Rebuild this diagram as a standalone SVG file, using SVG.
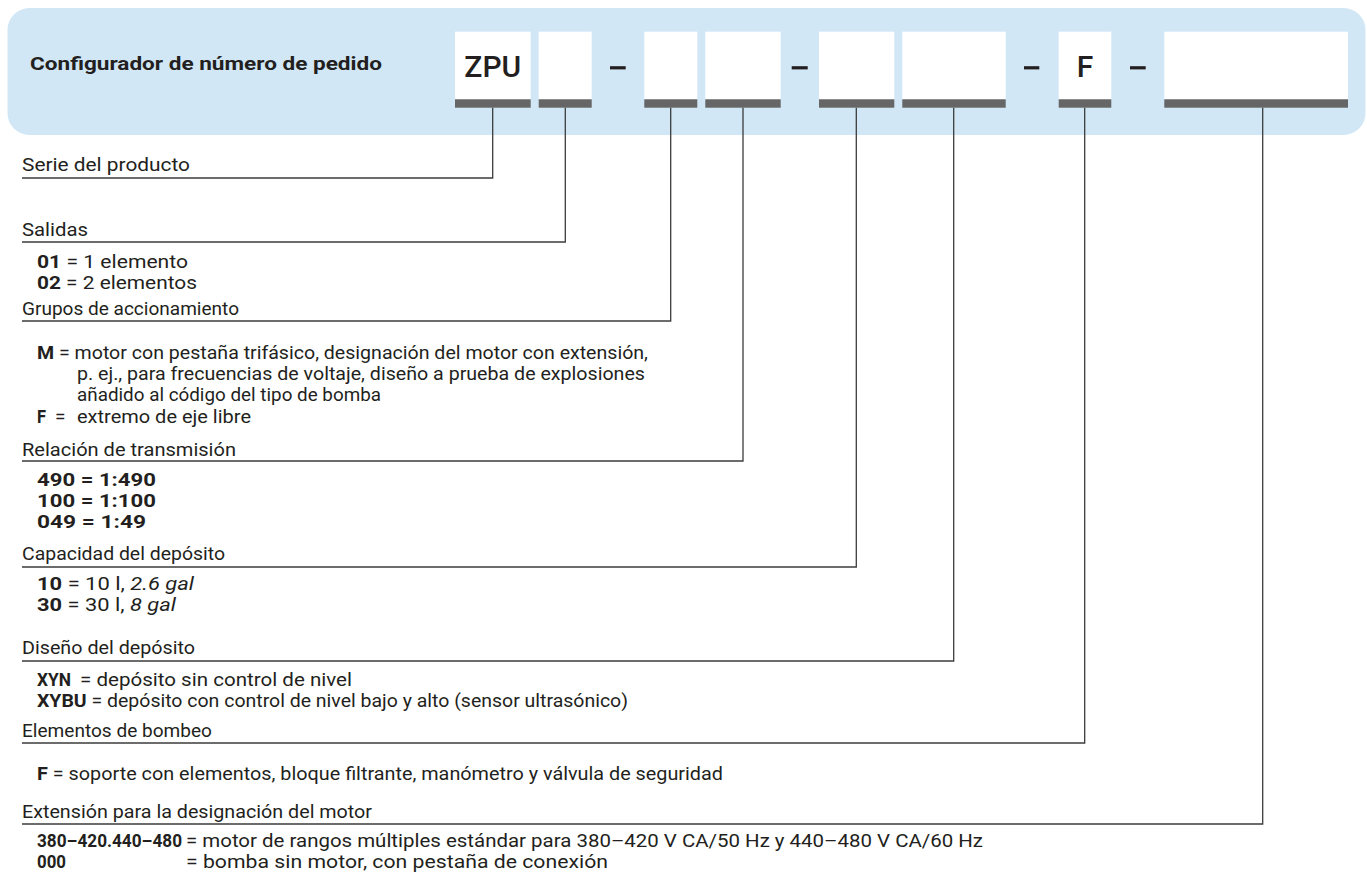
<svg xmlns="http://www.w3.org/2000/svg" width="1367" height="872" viewBox="0 0 1367 872">
<style>
.t{font-family:Roboto,"Noto Sans","Liberation Sans",sans-serif;font-size:19px;fill:#231f20}
.s{font-size:17.5px}
.b{font-weight:700}
.i{font-style:italic}
.box{fill:#ffffff}
.bar{fill:#666666}
.dash{fill:#231f20}
.ln{fill:none;stroke:#3c3c3c;stroke-width:1.3}
.code{font-family:Roboto,"Noto Sans","Liberation Sans",sans-serif;font-size:30px;font-weight:500;fill:#231f20;text-anchor:middle}
</style>
<rect width="1367" height="872" fill="#ffffff"/>
<g id="header">
<rect x="7.5" y="8" width="1358" height="127" rx="22" fill="#d1e7f6"/>
<text class="t b" x="30" y="70" font-size="20" textLength="352" lengthAdjust="spacingAndGlyphs">Configurador de número de pedido</text>
</g>
<g id="field-zpu"><rect class="box" x="455" y="31.7" width="75.7" height="67.6"/><rect class="bar" x="455" y="99.3" width="75.7" height="8.4"/><text class="code" x="492.8" y="76.7">ZPU</text></g>
<g id="field-salidas"><rect class="box" x="538.7" y="31.7" width="53" height="67.6"/><rect class="bar" x="538.7" y="99.3" width="53" height="8.4"/></g>
<rect class="dash" x="610" y="66.2" width="15.7" height="3.2"/>
<g id="field-grupos"><rect class="box" x="644.3" y="31.7" width="53" height="67.6"/><rect class="bar" x="644.3" y="99.3" width="53" height="8.4"/></g>
<g id="field-relacion"><rect class="box" x="705.3" y="31.7" width="75.4" height="67.6"/><rect class="bar" x="705.3" y="99.3" width="75.4" height="8.4"/></g>
<rect class="dash" x="791.7" y="66.2" width="16" height="3.2"/>
<g id="field-capacidad"><rect class="box" x="819" y="31.7" width="75.3" height="67.6"/><rect class="bar" x="819" y="99.3" width="75.3" height="8.4"/></g>
<g id="field-diseno"><rect class="box" x="902.3" y="31.7" width="103.4" height="67.6"/><rect class="bar" x="902.3" y="99.3" width="103.4" height="8.4"/></g>
<rect class="dash" x="1024" y="66.2" width="15.3" height="3.2"/>
<g id="field-f"><rect class="box" x="1058.7" y="31.7" width="52.6" height="67.6"/><rect class="bar" x="1058.7" y="99.3" width="52.6" height="8.4"/><text class="code" x="1085" y="76.7">F</text></g>
<rect class="dash" x="1130" y="66.2" width="15.7" height="3.2"/>
<g id="field-extension"><rect class="box" x="1164.3" y="31.7" width="183.7" height="67.6"/><rect class="bar" x="1164.3" y="99.3" width="183.7" height="8.4"/></g>

<g id="connectors">
<polyline class="ln" points="492.7,107.7 492.7,178 22,178"/>
<polyline class="ln" points="565.3,107.7 565.3,242 22,242"/>
<polyline class="ln" points="670.7,107.7 670.7,321 22,321"/>
<polyline class="ln" points="743,107.7 743,461 22,461"/>
<polyline class="ln" points="856.3,107.7 856.3,567 22,567"/>
<polyline class="ln" points="953.7,107.7 953.7,661 22,661"/>
<polyline class="ln" points="1084.7,107.7 1084.7,743 22,743"/>
<polyline class="ln" points="1262.7,107.7 1262.7,824 22,824"/>
</g>

<g id="serie">
<text class="t" x="22" y="171" textLength="168" lengthAdjust="spacingAndGlyphs">Serie del producto</text>
</g>
<g id="salidas">
<text class="t" x="22" y="236" textLength="66" lengthAdjust="spacingAndGlyphs">Salidas</text>
<text class="t" x="37" y="268" textLength="151" lengthAdjust="spacingAndGlyphs"><tspan class="b">01</tspan> = 1 elemento</text>
<text class="t" x="37" y="289" textLength="160" lengthAdjust="spacingAndGlyphs"><tspan class="b">02</tspan> = 2 elementos</text>
</g>
<g id="grupos">
<text class="t" x="22" y="315" textLength="217" lengthAdjust="spacingAndGlyphs">Grupos de accionamiento</text>
<text class="t" x="37" y="359" textLength="611" lengthAdjust="spacingAndGlyphs"><tspan class="b">M</tspan> = motor con pestaña trifásico, designación del motor con extensión,</text>
<text class="t" x="77" y="380" textLength="568" lengthAdjust="spacingAndGlyphs">p. ej., para frecuencias de voltaje, diseño a prueba de explosiones</text>
<text class="t" x="77" y="401" textLength="304" lengthAdjust="spacingAndGlyphs">añadido al código del tipo de bomba</text>
<text class="t b" x="37" y="423" textLength="9" lengthAdjust="spacingAndGlyphs">F</text>
<text class="t" x="55" y="423">=</text>
<text class="t" x="77" y="423" textLength="174" lengthAdjust="spacingAndGlyphs">extremo de eje libre</text>
</g>
<g id="relacion">
<text class="t" x="22" y="456" textLength="214" lengthAdjust="spacingAndGlyphs">Relación de transmisión</text>
<text class="t b" x="37" y="486" textLength="119" lengthAdjust="spacingAndGlyphs">490 = 1:490</text>
<text class="t b" x="37" y="507" textLength="119" lengthAdjust="spacingAndGlyphs">100 = 1:100</text>
<text class="t b" x="37" y="528" textLength="109" lengthAdjust="spacingAndGlyphs">049 = 1:49</text>
</g>
<g id="capacidad">
<text class="t" x="22" y="560" textLength="203" lengthAdjust="spacingAndGlyphs">Capacidad del depósito</text>
<text class="t" x="37" y="590" textLength="157" lengthAdjust="spacingAndGlyphs"><tspan class="b">10</tspan> = 10 l, <tspan class="i">2.6 gal</tspan></text>
<text class="t" x="37" y="611" textLength="139" lengthAdjust="spacingAndGlyphs"><tspan class="b">30</tspan> = 30 l, <tspan class="i">8 gal</tspan></text>
</g>
<g id="diseno">
<text class="t" x="22" y="654" textLength="173" lengthAdjust="spacingAndGlyphs">Diseño del depósito</text>
<text class="t b" x="37" y="686" textLength="34" lengthAdjust="spacingAndGlyphs">XYN</text>
<text class="t" x="80" y="686" textLength="272" lengthAdjust="spacingAndGlyphs">= depósito sin control de nivel</text>
<text class="t" x="37" y="707" textLength="591" lengthAdjust="spacingAndGlyphs"><tspan class="b">XYBU</tspan> = depósito con control de nivel bajo y alto (sensor ultrasónico)</text>
</g>
<g id="elementos">
<text class="t" x="22" y="737" textLength="190" lengthAdjust="spacingAndGlyphs">Elementos de bombeo</text>
<text class="t" x="37" y="780" textLength="686" lengthAdjust="spacingAndGlyphs"><tspan class="b">F</tspan> = soporte con elementos, bloque filtrante, manómetro y válvula de seguridad</text>
</g>
<g id="extension">
<text class="t" x="22" y="818" textLength="350" lengthAdjust="spacingAndGlyphs">Extensión para la designación del motor</text>
<text class="t s b" x="37" y="847" textLength="145" lengthAdjust="spacingAndGlyphs">380–420.440–480</text>
<text class="t s" x="186" y="847" textLength="797" lengthAdjust="spacingAndGlyphs">= motor de rangos múltiples estándar para 380–420 V CA/50 Hz y 440–480 V CA/60 Hz</text>
<text class="t s b" x="37" y="868" textLength="29" lengthAdjust="spacingAndGlyphs">000</text>
<text class="t s" x="186" y="868" textLength="422" lengthAdjust="spacingAndGlyphs">= bomba sin motor, con pestaña de conexión</text>
</g>
</svg>
